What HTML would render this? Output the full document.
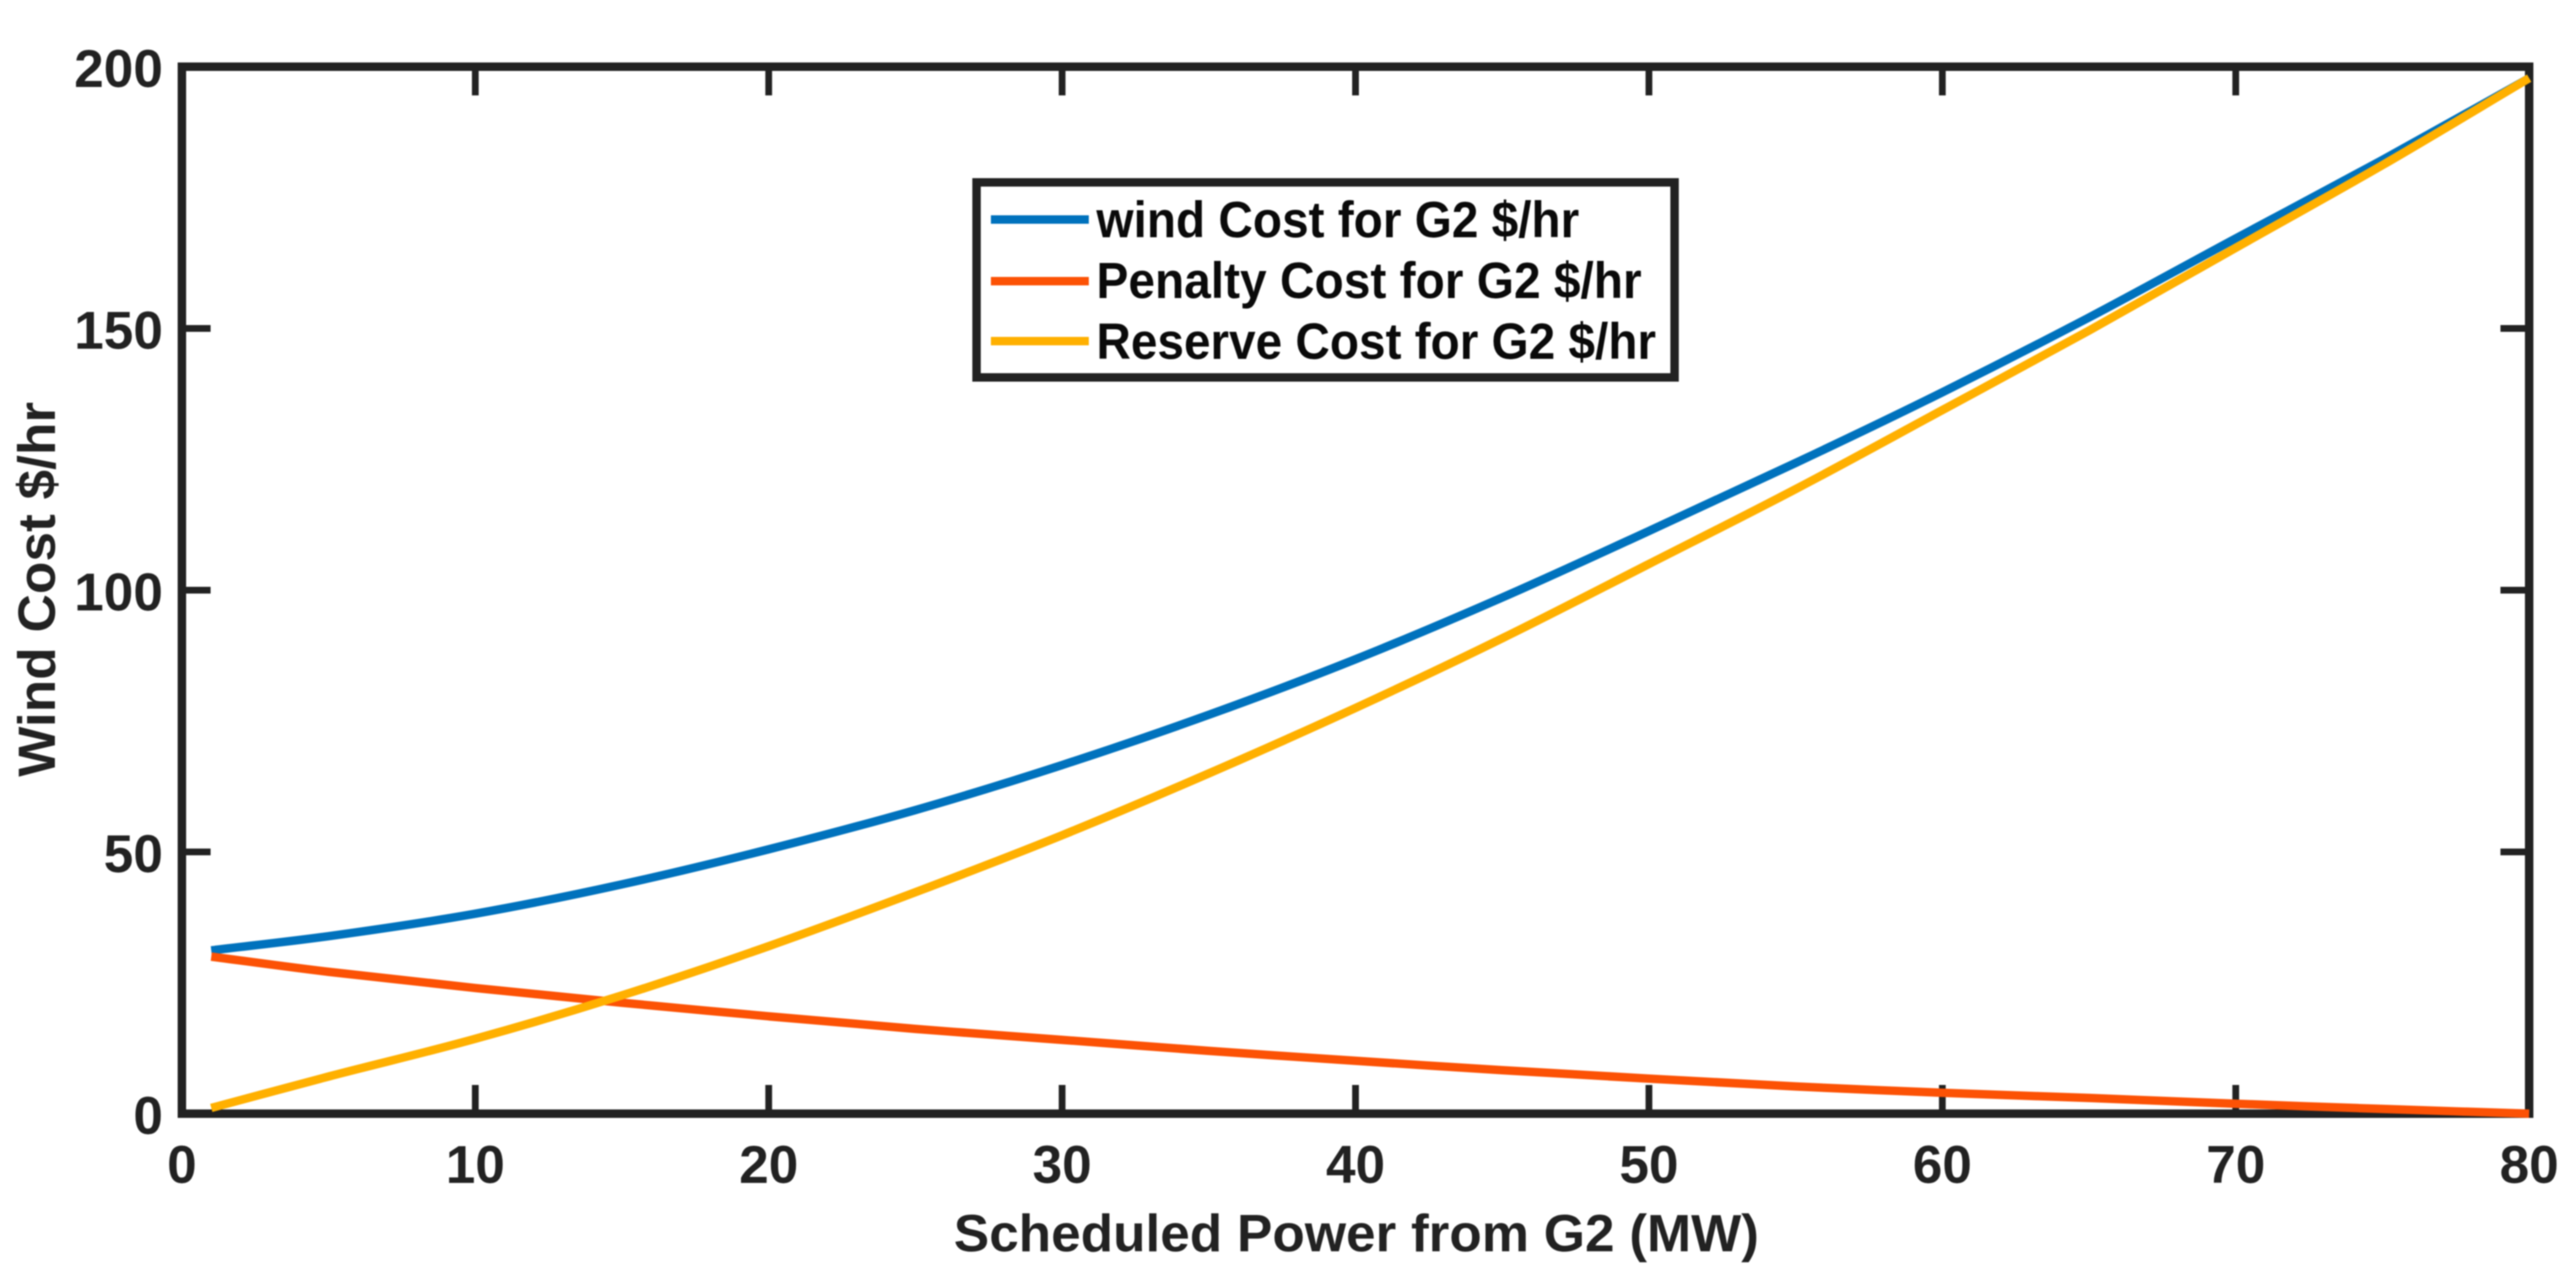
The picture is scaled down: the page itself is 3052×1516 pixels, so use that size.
<!DOCTYPE html>
<html lang="en">
<head>
<meta charset="utf-8">
<title>Wind Cost for G2</title>
<style>
html,body{margin:0;padding:0;background:#fff;}
svg{display:block;filter:blur(0.8px);}
text{font-family:"Liberation Sans",sans-serif;font-weight:700;fill:#222;}
.legend-label{fill:#0a0a0a;font-size:60px;}
</style>
</head>
<body>
<svg id="chart" xmlns="http://www.w3.org/2000/svg" width="3052" height="1516" viewBox="0 0 3052 1516">
  <rect x="0" y="0" width="3052" height="1516" fill="#fff"/>
  <g id="axes"></g>
  <g id="series"></g>
  <text x="1130" y="1482" font-size="62" textLength="954" lengthAdjust="spacingAndGlyphs">Scheduled Power from G2 (MW)</text>
  <text transform="translate(65 920) rotate(-90)" font-size="62" textLength="444" lengthAdjust="spacingAndGlyphs">Wind Cost $/hr</text>
  <g>
    <rect x="1157" y="216" width="827" height="231" fill="#fff" stroke="#222" stroke-width="10"/>
    <line x1="1174" x2="1290" y1="260" y2="260" stroke="#0072BD" stroke-width="10"/>
    <line x1="1174" x2="1290" y1="333" y2="333" stroke="#FC5205" stroke-width="10"/>
    <line x1="1174" x2="1290" y1="404" y2="404" stroke="#FFB000" stroke-width="10"/>
    <text class="legend-label" x="1299" y="281" textLength="572" lengthAdjust="spacingAndGlyphs">wind Cost for G2 $/hr</text>
    <text class="legend-label" x="1299" y="353" textLength="646" lengthAdjust="spacingAndGlyphs">Penalty Cost for G2 $/hr</text>
    <text class="legend-label" x="1299" y="425" textLength="663" lengthAdjust="spacingAndGlyphs">Reserve Cost for G2 $/hr</text>
  </g>
</svg>
<script>
const scheduledPower = [1, 5, 10, 15, 20, 25, 30, 35, 40, 45, 50, 55, 60, 65, 70, 75, 80];
const windCost = [31.2, 33.9, 38.2, 43.8, 50.5, 58, 66.6, 76.2, 86.8, 98.6, 111.3, 124.3, 137.8, 152.1, 167.2, 182.2, 197.8];
const penaltyCost = [30, 27.1, 24, 21.2, 18.6, 16.2, 14.1, 12, 10.1, 8.3, 6.7, 5.2, 4, 3, 1.9, 0.9, 0];
const reserveCost = [1.1, 7.1, 14.3, 22.6, 32, 42.3, 53.2, 65, 77.5, 90.8, 105, 119.3, 134.4, 149.6, 165.4, 181.2, 197.8];
const xTicks = [0, 10, 20, 30, 40, 50, 60, 70, 80];
const yTicks = [0, 50, 100, 150, 200];

const NS = 'http://www.w3.org/2000/svg';
const plotLeft = 215.5, plotRight = 2996.5, plotTop = 79, plotBottom = 1319;
const tickLen = 34;
function xScale(v) { return plotLeft + (v / 80) * (plotRight - plotLeft); }
function yScale(v) { return plotBottom - (v / 200) * (plotBottom - plotTop); }
function make(tag, attrs) {
  const el = document.createElementNS(NS, tag);
  for (const k in attrs) el.setAttribute(k, attrs[k]);
  return el;
}
const axes = document.getElementById('axes');
const seriesGroup = document.getElementById('series');

const frame = make('rect', {x: plotLeft, y: plotTop, width: plotRight - plotLeft, height: plotBottom - plotTop, fill: '#fff', stroke: '#222', 'stroke-width': 10});


axes.appendChild(frame);

xTicks.forEach(function (t) {
  const x = xScale(t);
  const bottom = make('line', {x1: x, x2: x, y1: plotBottom, y2: plotBottom - tickLen, stroke: '#222', 'stroke-width': 8});
  
  
  axes.appendChild(bottom);
  const top = make('line', {x1: x, x2: x, y1: plotTop, y2: plotTop + tickLen, stroke: '#222', 'stroke-width': 8});
  
  
  axes.appendChild(top);
  const label = make('text', {x: x, y: 1401, 'text-anchor': 'middle', 'font-size': 63});
  
  
  label.textContent = String(t);
  axes.appendChild(label);
});

yTicks.forEach(function (t) {
  const y = yScale(t);
  const left = make('line', {x1: plotLeft, x2: plotLeft + tickLen, y1: y, y2: y, stroke: '#222', 'stroke-width': 8});
  
  
  axes.appendChild(left);
  const right = make('line', {x1: plotRight, x2: plotRight - tickLen, y1: y, y2: y, stroke: '#222', 'stroke-width': 8});
  
  
  axes.appendChild(right);
  const label = make('text', {x: 193, y: y + 24, 'text-anchor': 'end', 'font-size': 63});
  
  
  label.textContent = String(t);
  axes.appendChild(label);
});

// Smooth curve through the data points (cubic Hermite with finite-difference slopes).
function curveFor(values) {
  const px = scheduledPower.map(xScale);
  const py = values.map(yScale);
  const n = px.length;
  const slope = px.map(function (_, i) {
    const a = Math.max(i - 1, 0), b = Math.min(i + 1, n - 1);
    return (py[b] - py[a]) / (px[b] - px[a]);
  });
  let d = 'M' + px[0].toFixed(1) + ' ' + py[0].toFixed(1);
  for (let i = 0; i < n - 1; i++) {
    const h = (px[i + 1] - px[i]) / 3;
    d += ' C' + (px[i] + h).toFixed(1) + ' ' + (py[i] + slope[i] * h).toFixed(1) +
         ' ' + (px[i + 1] - h).toFixed(1) + ' ' + (py[i + 1] - slope[i + 1] * h).toFixed(1) +
         ' ' + px[i + 1].toFixed(1) + ' ' + py[i + 1].toFixed(1);
  }
  return d;
}

const windLine = make('path', {d: curveFor(windCost), fill: 'none', stroke: '#0072BD', 'stroke-width': 10});


seriesGroup.appendChild(windLine);

const penaltyLine = make('path', {d: curveFor(penaltyCost), fill: 'none', stroke: '#FC5205', 'stroke-width': 10});


seriesGroup.appendChild(penaltyLine);

const reserveLine = make('path', {d: curveFor(reserveCost), fill: 'none', stroke: '#FFB000', 'stroke-width': 10});


seriesGroup.appendChild(reserveLine);
</script>
</body>
</html>
